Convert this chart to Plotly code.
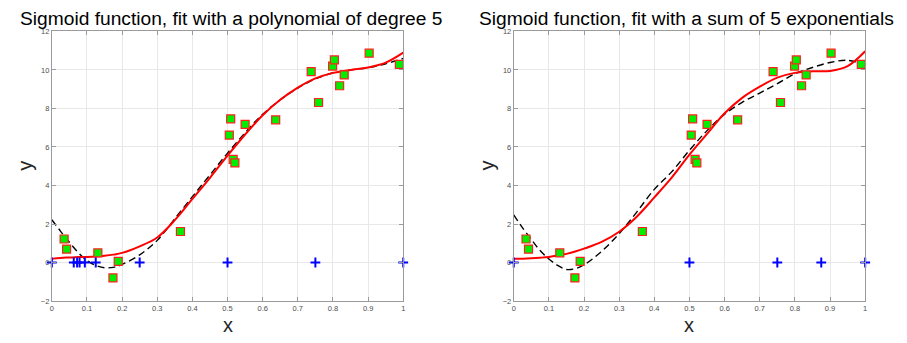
import plotly.graph_objects as go

# ---- data ----
data_x = [0.035, 0.042, 0.131, 0.174, 0.189, 0.366, 0.505, 0.509, 0.516, 0.521,
          0.550, 0.637, 0.738, 0.759, 0.799, 0.804, 0.819, 0.832, 0.903, 0.989]
data_y = [1.22, 0.70, 0.50, -0.80, 0.06, 1.61, 6.62, 7.46, 5.36, 5.17,
          7.17, 7.41, 9.91, 8.31, 10.20, 10.52, 9.18, 9.74, 10.87, 10.29]

curve_x = [0, 0.025, 0.05, 0.075, 0.1, 0.125, 0.15, 0.175, 0.2, 0.25, 0.3, 0.35, 0.4,
           0.45, 0.5, 0.55, 0.6, 0.65, 0.7, 0.75, 0.8, 0.85, 0.9, 0.95, 1.0]

# left: polynomial of degree 5
left_fit = [0.20, 0.24, 0.26, 0.28, 0.29, 0.31, 0.35, 0.41, 0.50, 0.84, 1.30, 2.20, 3.30,
            4.40, 5.55, 6.65, 7.65, 8.45, 9.08, 9.56, 9.85, 10.00, 10.13, 10.38, 10.90]
left_ref = [2.22, 1.62, 1.05, 0.52, 0.10, -0.15, -0.27, -0.25, -0.10, 0.40, 1.15, 2.28, 3.42,
            4.55, 5.68, 6.74, 7.70, 8.45, 9.06, 9.54, 9.84, 10.00, 10.12, 10.32, 10.60]
left_nodes = [0, 0.0625, 0.072, 0.079, 0.094, 0.125, 0.25, 0.5, 0.75, 1.0]

# right: sum of 5 exponentials
right_fit = [0.19, 0.20, 0.22, 0.25, 0.29, 0.36, 0.45, 0.57, 0.72, 1.07, 1.60, 2.38, 3.38,
             4.42, 5.60, 6.68, 7.75, 8.55, 9.13, 9.60, 9.85, 9.93, 9.95, 10.20, 10.97]
right_ref = [2.48, 1.80, 1.20, 0.62, 0.18, -0.15, -0.36, -0.32, -0.12, 0.58, 1.50, 2.62, 3.80,
             4.72, 5.83, 6.85, 7.70, 8.32, 8.80, 9.29, 9.80, 10.13, 10.39, 10.50, 10.30]
right_nodes = [0, 0.5, 0.75, 0.875, 1.0]

x_ticks = [0, 0.1, 0.2, 0.3, 0.4, 0.5, 0.6, 0.7, 0.8, 0.9, 1]
x_tick_text = ["0", "0.1", "0.2", "0.3", "0.4", "0.5", "0.6", "0.7", "0.8", "0.9", "1"]
y_ticks = [-2, 0, 2, 4, 6, 8, 10, 12]

titles = ["Sigmoid function, fit with a polynomial of degree 5",
          "Sigmoid function, fit with a sum of 5 exponentials"]

# page body has an 8px margin: shift coordinates and let the figure run to the window edge
OFF = 8
W, H = 907 - OFF, 343 - OFF
FONT = "Liberation Sans, Arial, Helvetica, sans-serif"


def px_x(p):
    return (p - OFF) / W


def px_y(p):
    return 1 - (p - OFF) / H


fig = go.Figure()

panels = [
    ("x", "y", left_ref, left_fit, left_nodes),
    ("x2", "y2", right_ref, right_fit, right_nodes),
]
for xa, ya, ref, fit, nodes in panels:
    fig.add_trace(go.Scatter(x=curve_x, y=ref, mode="lines", line_shape="spline",
                             line=dict(color="black", width=1.4, dash="7px,4px"),
                             xaxis=xa, yaxis=ya, showlegend=False))
    fig.add_trace(go.Scatter(x=curve_x, y=fit, mode="lines", line_shape="spline",
                             line=dict(color="#ff0000", width=2),
                             xaxis=xa, yaxis=ya, showlegend=False))
    fig.add_trace(go.Scatter(x=data_x, y=data_y, mode="markers", cliponaxis=False,
                             marker=dict(symbol="square", size=8, color="#00ee00",
                                         line=dict(color="#ff2020", width=1.2)),
                             xaxis=xa, yaxis=ya, showlegend=False))
    fig.add_trace(go.Scatter(x=nodes, y=[0] * len(nodes), mode="markers", cliponaxis=False,
                             marker=dict(symbol="cross-thin", size=7, color="#0000ff",
                                         line=dict(color="#0000ff", width=2)),
                             xaxis=xa, yaxis=ya, showlegend=False))

x_dom = [[px_x(50), px_x(403)], [px_x(514), px_x(867)]]
y_dom = [px_y(305), px_y(28)]

axis_common = dict(showline=True, linecolor="#9a9a9a", linewidth=1, mirror="ticks",
                   ticks="inside", ticklen=4, tickcolor="#9a9a9a",
                   showgrid=True, gridcolor="#e8e8e8", gridwidth=1, zeroline=False,
                   tickfont=dict(family=FONT, size=7.5, color="#4d4d4d"))

layout = dict(width=W, height=H, margin=dict(l=0, r=0, t=0, b=0),
              paper_bgcolor="white", plot_bgcolor="white", showlegend=False)
for i, suffix in enumerate(["", "2"]):
    layout["xaxis" + suffix] = dict(domain=x_dom[i], range=[0, 1], tickvals=x_ticks,
                                    ticktext=x_tick_text, anchor="y" + suffix, **axis_common)
    layout["yaxis" + suffix] = dict(domain=y_dom, range=[-2, 12], tickvals=y_ticks,
                                    anchor="x" + suffix, **axis_common)
fig.update_layout(**layout)

title_centers_px = [230, 688]
centers_px = [(50 + 403) / 2, (514 + 867) / 2]
ann = []
for i in range(2):
    cx = px_x(centers_px[i])
    ann.append(dict(text=titles[i], x=px_x(title_centers_px[i]), y=px_y(15),
                    xref="paper", yref="paper",
                    xanchor="center", yanchor="middle", showarrow=False,
                    font=dict(family=FONT, size=19.2, color="black")))
    ann.append(dict(text="x", x=cx, y=px_y(330), xref="paper", yref="paper",
                    xanchor="center", yanchor="middle", showarrow=False,
                    font=dict(family=FONT, size=20, color="#262626")))
    ann.append(dict(text="y", x=px_x([50, 514][i] - 27), y=px_y(166),
                    xref="paper", yref="paper", textangle=-90,
                    xanchor="center", yanchor="middle", showarrow=False,
                    font=dict(family=FONT, size=20, color="#262626")))
fig.update_layout(annotations=ann)

fig.write_html("out.html")
